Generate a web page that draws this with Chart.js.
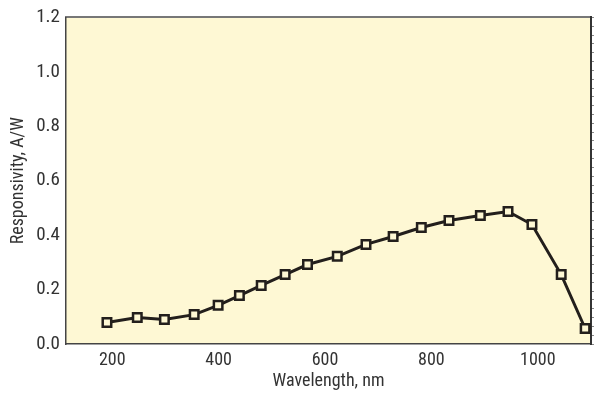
<!DOCTYPE html>
<html>
<head>
<meta charset="utf-8">
<script src="https://cdn.jsdelivr.net/npm/chart.js@4"></script>
<style>
  html, body { margin: 0; padding: 0; background: #fff; }
  #wrap { width: 600px; height: 399px; }
</style>
</head>
<body>
<div id="wrap"><canvas id="respChart" width="600" height="399"></canvas></div>
<script>
// wavelength (nm) and responsivity (A/W)
const wavelengths = [190, 247, 298, 354, 399, 439, 480, 525, 567, 623, 677, 728, 781, 833, 892, 944, 989, 1044, 1089];
const responsivity = [0.079, 0.097, 0.090, 0.108, 0.142, 0.178, 0.215, 0.255, 0.292, 0.322, 0.366, 0.395, 0.428, 0.454, 0.472, 0.487, 0.439, 0.255, 0.057];
const yTicks = [0, 0.2, 0.4, 0.6, 0.8, 1.0, 1.2];
const xTicks = [200, 400, 600, 800, 1000];

const fontFamily = "'Liberation Sans Narrow', 'Roboto Condensed', 'DejaVu Sans Condensed', sans-serif";
const textColor = "#333";

const points = wavelengths.map((w, i) => ({ x: w, y: responsivity[i] }));

const plotBackground = {
	id: "plotBackground",
	beforeDraw(chart) {
		const { ctx, chartArea } = chart;
		ctx.save();
		ctx.fillStyle = "#fef8d4";
		ctx.fillRect(chartArea.left, chartArea.top, chartArea.right - chartArea.left, chartArea.bottom - chartArea.top);
		ctx.restore();
	}
};

const ctx = document.getElementById("respChart").getContext("2d");
new Chart(ctx, {
	type: "line",
	data: {
		datasets: [
			{
				data: points,
				borderColor: "#231f1c",
				borderWidth: 3,
				pointStyle: "rect",
				pointRadius: 6,
				pointBorderWidth: 2.5,
				pointBorderColor: "#231f1c",
				pointBackgroundColor: "#fef8d4",
				tension: 0
			}
		]
	},
	options: {
		responsive: false,
		animation: false,
		layout: { padding: 0 },
		plugins: {
			legend: { display: false },
			tooltip: { enabled: false }
		},
		scales: {
			x: {
				type: "linear",
				position: "bottom",
				min: 113,
				max: 1100,
				afterBuildTicks: (axis) => { axis.ticks = xTicks.map(v => ({ value: v })); },
				afterFit: (axis) => { axis.height = 55; },
				grid: { display: false, drawTicks: false },
				border: { display: true, color: "#444", width: 1.5 },
				ticks: {
					padding: 6,
					color: textColor,
					font: { family: fontFamily, size: 18 },
					callback: (v) => String(v)
				},
				title: {
					display: true,
					text: "Wavelength, nm",
					color: textColor,
					font: { family: fontFamily, size: 18 },
					padding: { top: 0, bottom: 7 }
				}
			},
			xTop: {
				type: "linear",
				position: "top",
				min: 113,
				max: 1100,
				afterFit: (axis) => { axis.height = 16; },
				grid: { display: false, drawTicks: false },
				border: { display: true, color: "#777", width: 2 },
				ticks: { display: false }
			},
			y: {
				type: "linear",
				position: "left",
				min: 0,
				max: 1.2,
				afterBuildTicks: (axis) => { axis.ticks = yTicks.map(v => ({ value: v })); },
				afterFit: (axis) => { axis.width = 66; },
				grid: { display: false, drawTicks: false },
				border: { display: true, color: "#444", width: 1.5 },
				ticks: {
					padding: 6,
					color: textColor,
					font: { family: fontFamily, size: 19 },
					callback: (v) => v.toFixed(1)
				},
				title: {
					display: true,
					text: "Responsivity, A/W",
					color: textColor,
					font: { family: fontFamily, size: 18 },
					padding: { top: 8, bottom: 0 }
				}
			},
			yRight: {
				type: "linear",
				position: "right",
				min: 0,
				max: 1,
				afterFit: (axis) => { axis.width = 9; },
				grid: { display: true, drawOnChartArea: false, drawTicks: true, tickLength: 3, color: "#888", lineWidth: 1 },
				border: { display: true, color: "#333", width: 2 },
				ticks: { display: false, count: 38 }
			}
		}
	},
	plugins: [plotBackground]
});
</script>
</body>
</html>
